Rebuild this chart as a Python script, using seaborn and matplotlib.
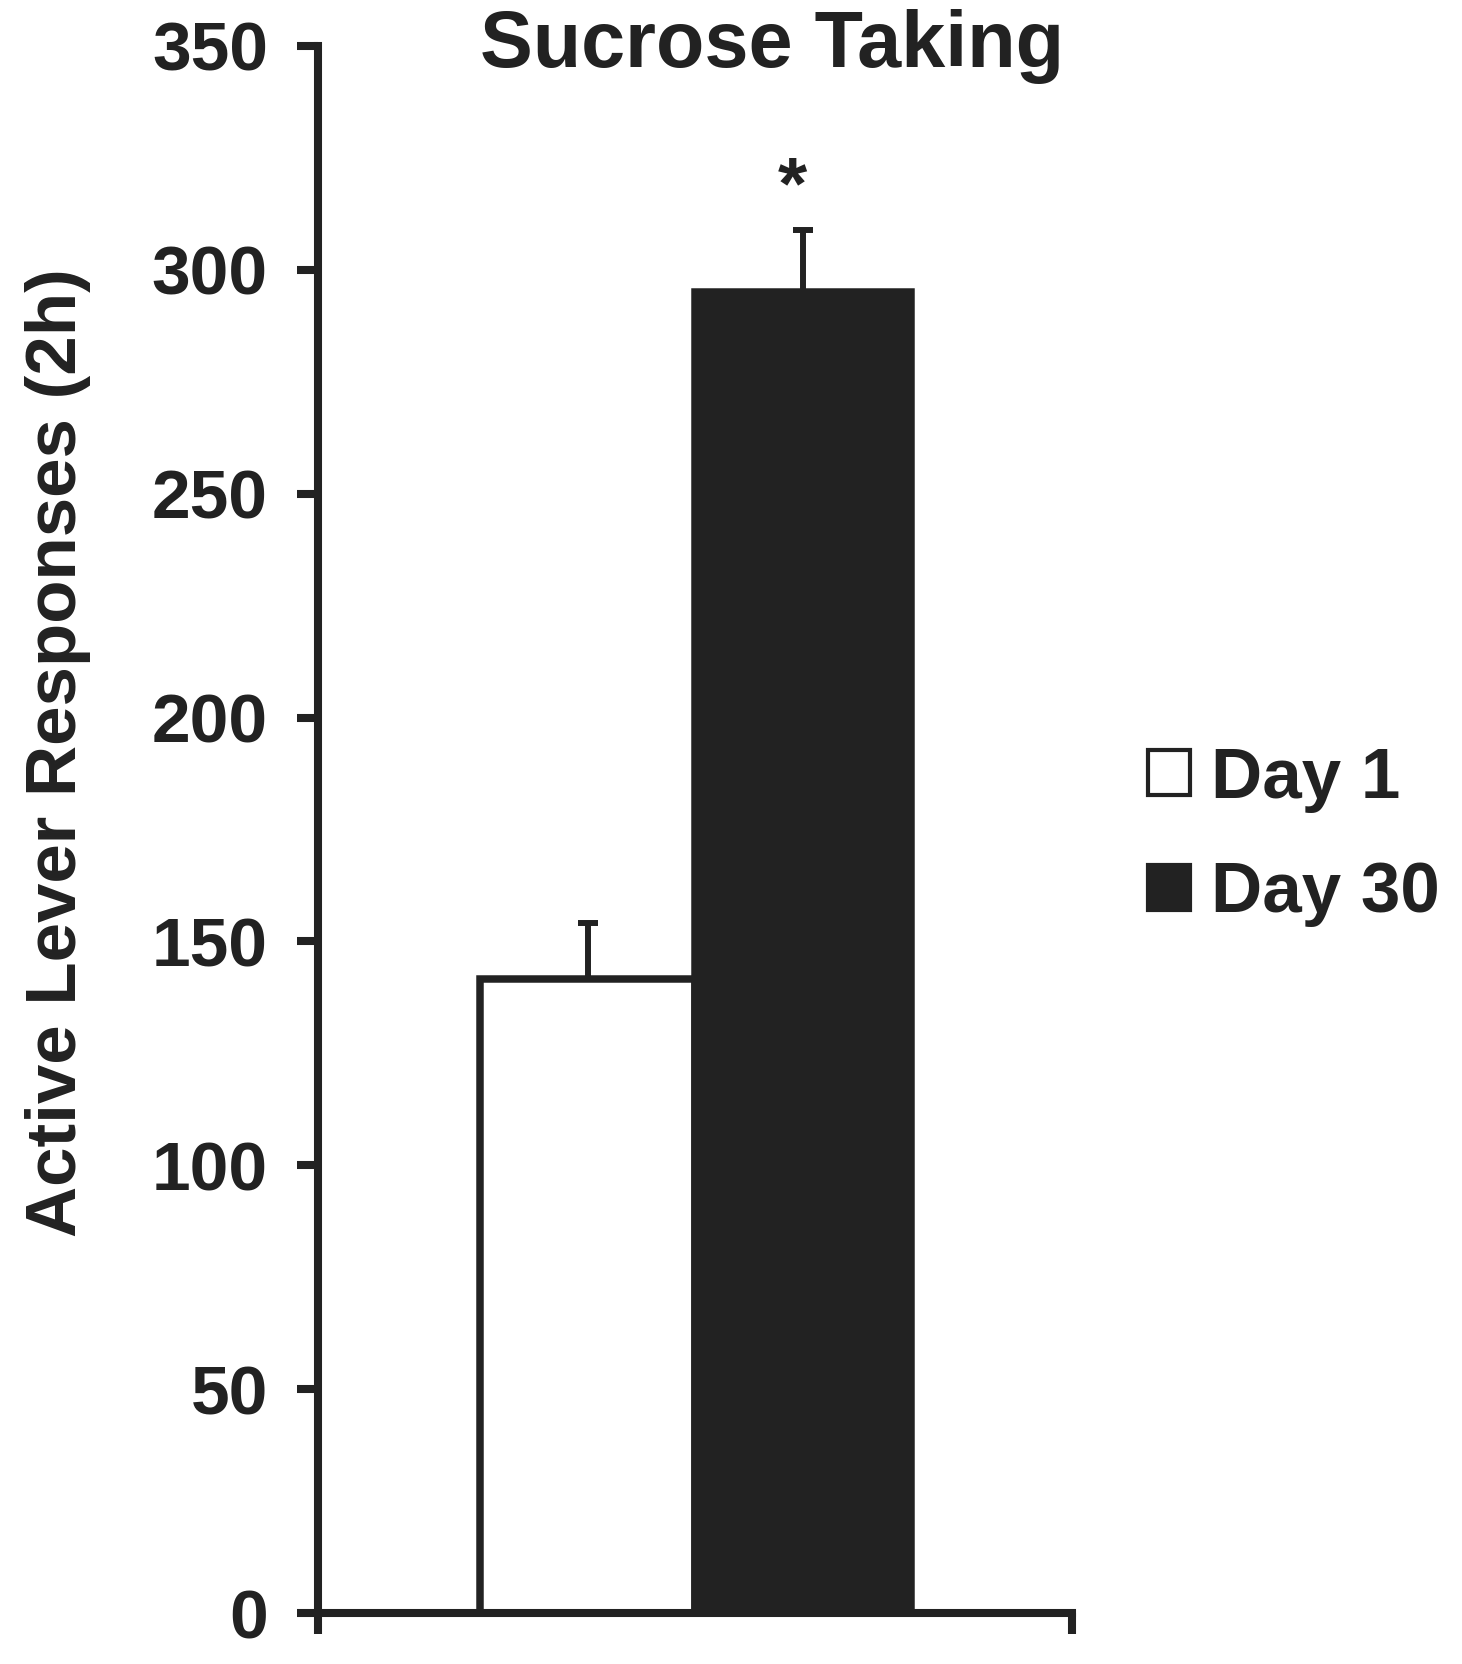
import matplotlib
matplotlib.use("Agg")
import matplotlib.pyplot as plt
from matplotlib.patches import Patch
import seaborn as sns
import pandas as pd

# ---- data ----
groups = ["Day 1", "Day 30"]
means = [141.6, 295]
sems = [12.5, 14]
yticks = [0, 50, 100, 150, 200, 250, 300, 350]
title = "Sucrose Taking"
ylabel = "Active Lever Responses (2h)"

INK = "#222222"

sns.set_theme(style="white")
plt.rcParams["font.family"] = ["Liberation Sans", "DejaVu Sans"]
plt.rcParams["font.weight"] = "bold"
plt.rcParams["text.color"] = INK
plt.rcParams["axes.edgecolor"] = INK

df = pd.DataFrame({"group": groups, "value": means})

fig = plt.figure(figsize=(14.62, 16.64), dpi=100)
ax = fig.add_axes([0.2175, 0.0306, 0.733 - 0.2175, 0.9724 - 0.0306])

sns.barplot(data=df, x="group", y="value", hue="group",
            palette={"Day 1": "white", "Day 30": INK},
            width=1.0, dodge=False, edgecolor=INK, linewidth=5.4,
            legend=False, ax=ax, zorder=2)

ax.errorbar(x=[0, 1], y=means, yerr=[[0, 0], sems], fmt="none",
            ecolor=INK, elinewidth=4.3, capsize=7.5, capthick=4.3, zorder=1)

ax.text(0.95, 318, "*", ha="center", va="center", fontsize=54,
        fontweight="bold", color=INK)

xl = (-1.254, 2.249)
ax.set_xlim(*xl)
ax.set_ylim(0, 350)
ax.set_yticks(yticks)
ax.set_yticklabels([str(t) for t in yticks])
ax.set_xticks(list(xl))
ax.set_xticklabels(["", ""])
ax.set_xlabel("")
ax.set_ylabel("")

for s in ["top", "right"]:
    ax.spines[s].set_visible(False)
for s in ["left", "bottom"]:
    ax.spines[s].set_linewidth(5.8)
    ax.spines[s].set_color(INK)
    ax.spines[s].set_capstyle("projecting")

ax.tick_params(axis="y", direction="out", length=15, width=5.8, color=INK,
               labelsize=50, pad=21, labelcolor=INK, left=True)
ax.tick_params(axis="x", direction="out", length=15, width=5.8, color=INK,
               bottom=True)
for lab in ax.get_yticklabels():
    lab.set_fontweight("bold")

fig.text(0.528, 0.960, title, ha="center", va="baseline", fontsize=57,
         fontweight="bold", color=INK)
fig.text(0.0397, 0.5475, ylabel, ha="center", va="center", rotation=90,
         fontsize=51, fontweight="bold", color=INK)

handles = [Patch(facecolor="white", edgecolor=INK, linewidth=3.0, label=groups[0]),
           Patch(facecolor=INK, edgecolor=INK, linewidth=3.0, label=groups[1])]
leg = fig.legend(handles=handles, loc="center left", bbox_to_anchor=(0.785, 0.497),
                 frameon=False, fontsize=51, handlelength=0.6, handleheight=0.6,
                 handletextpad=0.3, labelspacing=0.68, borderpad=0, borderaxespad=0)
for t in leg.get_texts():
    t.set_fontweight("bold")
    t.set_color(INK)

fig.savefig("out.png", dpi=100, facecolor="white")
